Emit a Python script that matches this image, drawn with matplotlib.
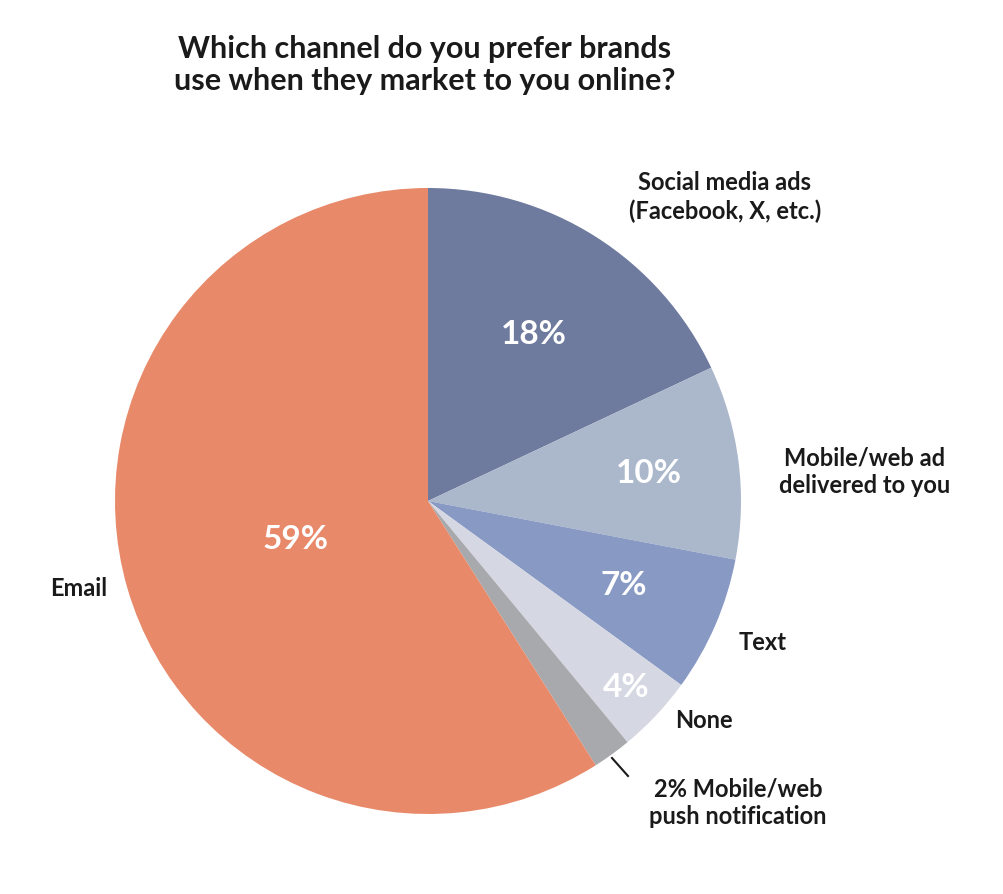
import numpy as np
import matplotlib.pyplot as plt

# data
labels = ["Social media ads\n(Facebook, X, etc.)", "Mobile/web ad\ndelivered to you", "Text",
          "None", "2% Mobile/web\npush notification", "Email"]
values = [18, 10, 7, 4, 2, 59]
colors = ["#6E7A9E", "#ABB7CB", "#8899C4", "#D5D8E3", "#A7A9AC", "#E8896A"]
inner_r = [0.63, 0.71, 0.68, 0.87, None, 0.44]  # radius for the % text inside

plt.rcParams['font.family'] = ['Lato', 'DejaVu Sans']
W, H = 1004, 894
fig = plt.figure(figsize=(W / 100, H / 100), dpi=100)
cx, cy, R = 428, 501, 313
ax = fig.add_axes([(cx - R) / W, (H - cy - R) / H, 2 * R / W, 2 * R / H])

wedges, _ = ax.pie(values, colors=colors, startangle=90, counterclock=False,
                   wedgeprops=dict(linewidth=0))
ax.set_xlim(-1, 1)
ax.set_ylim(-1, 1)
ax.set_aspect('equal')

for w, v, r in zip(wedges, values, inner_r):
    if r is None:
        continue
    a = np.deg2rad((w.theta1 + w.theta2) / 2)
    ax.text(r * np.cos(a), r * np.sin(a), f"{v}%", color="white", fontsize=24,
            fontweight="bold", ha="center", va="center")

# outside labels (pixel positions)
pos = [(725, 197, "center"), (865, 472, "center"), (763, 642, "center"),
       (704, 721, "center"), (738, 803, "center"), (79, 588, "center")]
for lab, (x, y, ha) in zip(labels, pos):
    fig.text(x / W, 1 - y / H, lab, fontsize=17, fontweight="bold", color="#1a1a1a",
             ha=ha, va="center", linespacing=1.25)

# leader line for the small slice
fig.add_artist(plt.Line2D([612 / W, 628 / W], [1 - 758 / H, 1 - 776 / H],
                          color="#1a1a1a", linewidth=1.5))

fig.text(425 / W, 1 - 65 / H, "Which channel do you prefer brands\nuse when they market to you online?",
         fontsize=22, fontweight="bold", color="#1a1a1a", ha="center", va="center",
         linespacing=1.2)

fig.savefig("out.png", dpi=100, facecolor="white")
